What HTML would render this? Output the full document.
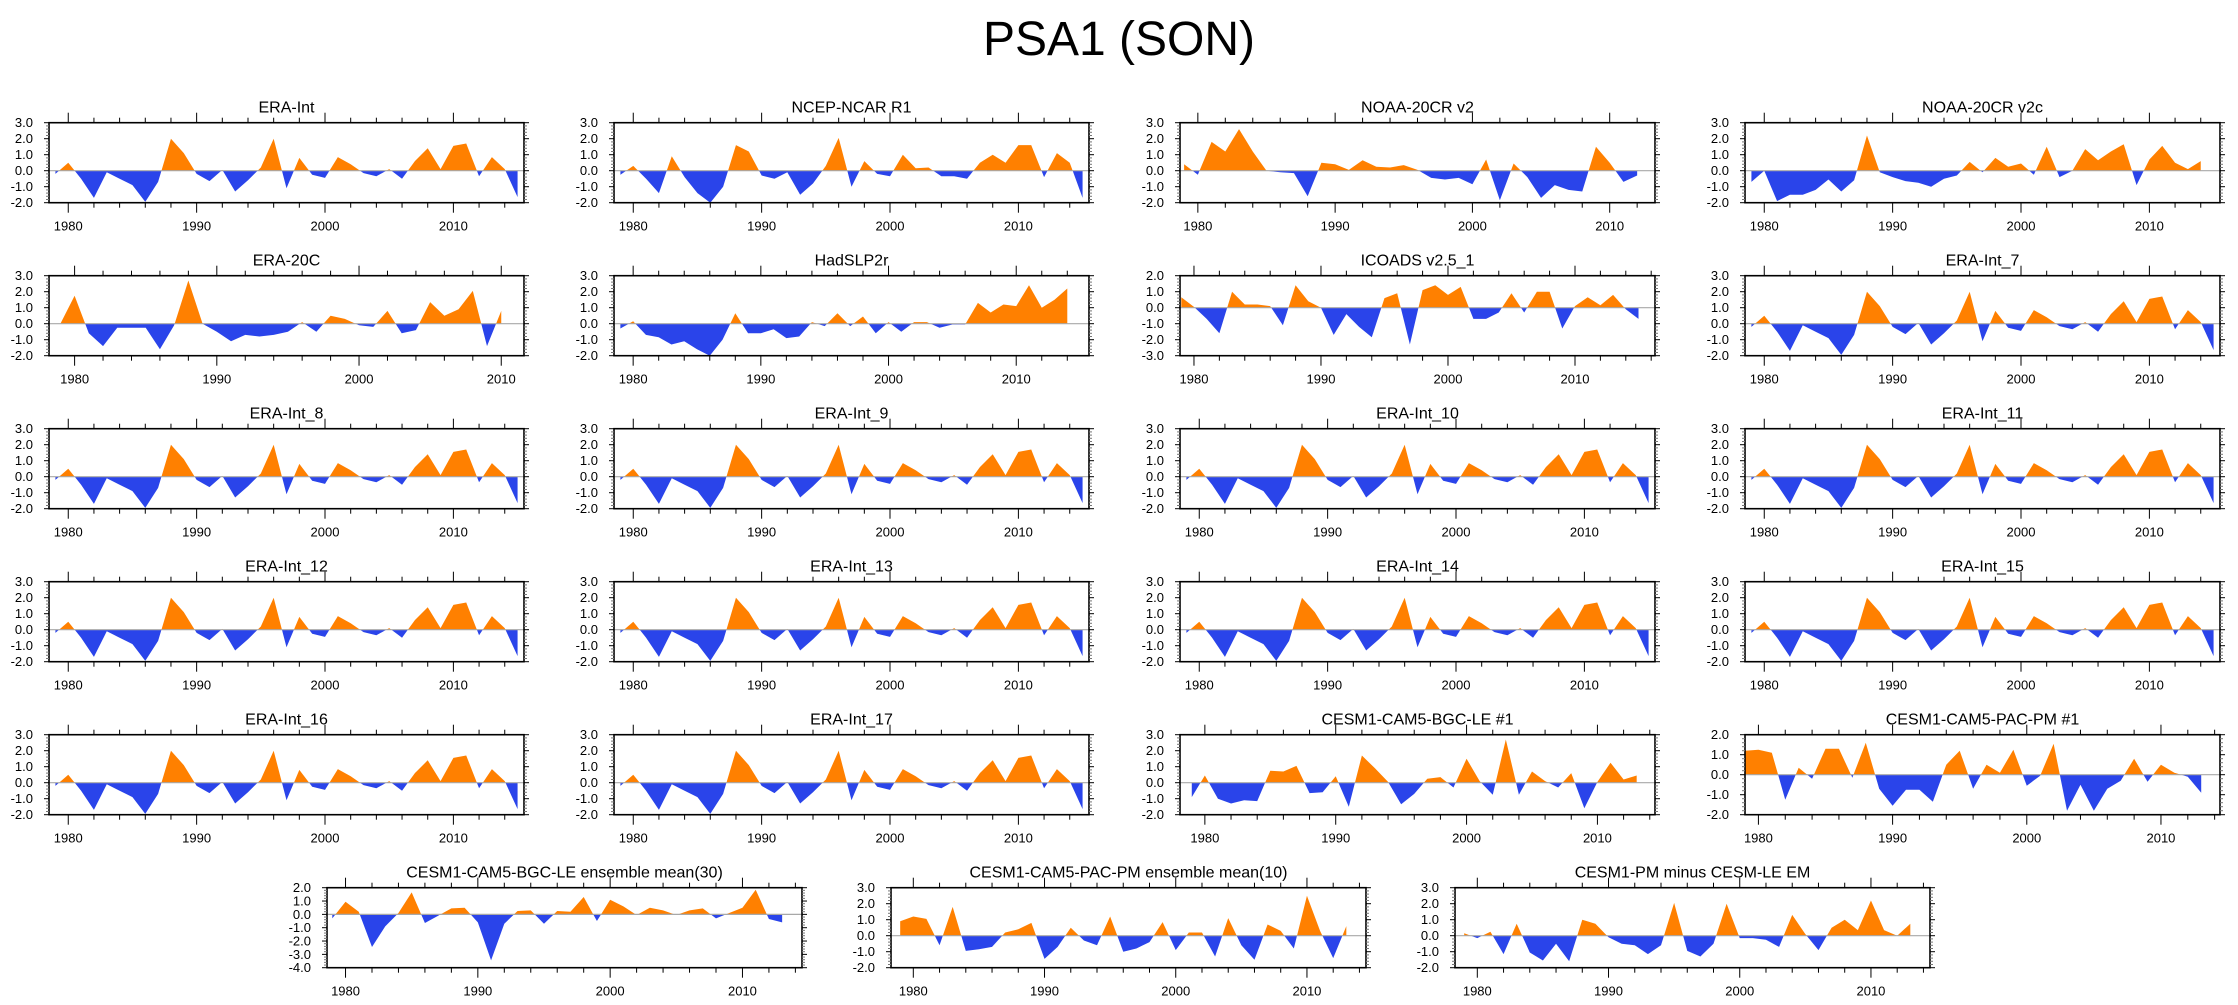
<!DOCTYPE html>
<html><head><meta charset="utf-8"><title>PSA1 (SON)</title>
<style>
html,body{margin:0;padding:0;background:#fff;}
svg{display:block;font-family:"Liberation Sans",Arial,sans-serif;}
</style></head>
<body>
<svg id="fig" width="2238" height="1005" viewBox="0 0 2238 1005" xmlns="http://www.w3.org/2000/svg">
<text x="1119" y="55" text-anchor="middle" font-size="48">PSA1 (SON)</text>
</svg>
<script>
// ---- data (start year 1979 for all series) ----
const eraInt = [-0.2,0.5,-0.5,-1.7,-0.1,-0.5,-0.9,-1.95,-0.7,2.0,1.1,-0.2,-0.65,0.05,-1.3,-0.6,0.2,2.0,-1.1,0.8,-0.25,-0.45,0.85,0.4,-0.15,-0.35,0.1,-0.5,0.6,1.4,0.1,1.55,1.7,-0.35,0.85,0.1,-1.65];
const ncep = [-0.25,0.3,-0.5,-1.4,0.9,-0.4,-1.4,-2.0,-1.0,1.6,1.2,-0.3,-0.5,-0.1,-1.5,-0.8,0.3,2.05,-1.0,0.6,-0.2,-0.35,1.0,0.15,0.2,-0.35,-0.35,-0.5,0.5,1.0,0.5,1.6,1.6,-0.4,1.1,0.5,-1.7];
const noaaV2 = [0.4,-0.25,1.8,1.2,2.6,1.2,0.0,-0.1,-0.15,-1.6,0.5,0.4,0.05,0.65,0.25,0.2,0.35,0.05,-0.45,-0.55,-0.45,-0.85,0.7,-1.85,0.45,-0.4,-1.7,-0.9,-1.2,-1.3,1.5,0.5,-0.7,-0.3];
const noaaV2c = [-0.7,0.0,-1.9,-1.5,-1.5,-1.2,-0.55,-1.3,-0.6,2.2,-0.1,-0.4,-0.65,-0.75,-1.0,-0.5,-0.3,0.55,-0.1,0.8,0.25,0.45,-0.25,1.5,-0.4,0.0,1.35,0.65,1.2,1.65,-0.9,0.7,1.55,0.5,0.1,0.6];
const era20c = [0.0,1.75,-0.6,-1.4,-0.25,-0.25,-0.25,-1.6,-0.1,2.7,0.0,-0.5,-1.1,-0.7,-0.8,-0.7,-0.5,0.1,-0.5,0.5,0.3,-0.1,-0.2,0.8,-0.6,-0.4,1.35,0.5,0.9,2.05,-1.4,0.8];
const hadslp = [-0.3,0.15,-0.7,-0.85,-1.3,-1.1,-1.6,-2.0,-1.0,0.65,-0.6,-0.6,-0.35,-0.9,-0.8,0.1,-0.15,0.65,-0.15,0.45,-0.6,0.1,-0.5,0.1,0.1,-0.25,-0.05,-0.05,1.3,0.7,1.2,1.1,2.4,1.0,1.5,2.2];
const icoads = [0.65,0.05,-0.7,-1.6,1.0,0.2,0.2,0.1,-1.1,1.4,0.4,0.0,-1.7,-0.4,-1.2,-1.85,0.6,0.9,-2.3,1.1,1.4,0.8,1.3,-0.7,-0.7,-0.3,0.9,-0.3,1.0,1.0,-1.3,0.1,0.65,0.15,0.8,-0.1,-0.7];
const bgc1 = [-0.9,0.45,-1.0,-1.3,-1.1,-1.15,0.75,0.7,1.05,-0.65,-0.6,0.4,-1.5,1.7,0.9,0.05,-1.35,-0.7,0.25,0.35,-0.3,1.5,0.1,-0.75,2.7,-0.75,0.7,0.1,-0.3,0.6,-1.6,0.05,1.25,0.2,0.45];
const pac1 = [1.2,1.25,1.1,-1.25,0.35,-0.2,1.3,1.3,-0.15,1.6,-0.7,-1.55,-0.75,-0.75,-1.35,0.5,1.2,-0.7,0.5,0.1,1.25,-0.55,-0.05,1.55,-1.8,-0.5,-1.8,-0.7,-0.3,0.8,-0.35,0.5,0.1,-0.1,-0.9];
const bgcEm = [-0.3,0.95,0.2,-2.45,-0.9,0.1,1.65,-0.65,-0.1,0.45,0.5,-0.6,-3.45,-0.7,0.25,0.3,-0.7,0.25,0.2,1.3,-0.5,1.1,0.6,-0.05,0.5,0.3,-0.05,0.3,0.45,-0.3,0.1,0.5,1.85,-0.35,-0.6];
const pacEm = [0.9,1.2,1.05,-0.6,1.8,-0.95,-0.85,-0.7,0.2,0.4,0.8,-1.45,-0.7,0.5,-0.3,-0.6,1.2,-1.0,-0.8,-0.4,0.85,-0.9,0.2,0.2,-1.3,1.1,-0.6,-1.5,0.7,0.3,-0.8,2.5,0.3,-1.4,0.6];
const pmMinus = [0.15,-0.15,0.25,-1.15,0.75,-1.05,-1.55,-0.5,-1.6,1.0,0.75,-0.1,-0.5,-0.6,-1.15,-0.6,2.05,-0.95,-1.3,-0.5,2.0,-0.15,-0.15,-0.25,-0.7,1.3,0.1,-0.9,0.5,1.0,0.35,2.2,0.35,0.0,0.75];
const xTickLabels = [1980,1990,2000,2010];

const panels = [
 ["ERA-Int",eraInt,0,0,-2,3,1978.5,2015.5],
 ["NCEP-NCAR R1",ncep,1,0,-2,3,1978.5,2015.5],
 ["NOAA-20CR v2",noaaV2,2,0,-2,3,1978.7,2013.3],
 ["NOAA-20CR v2c",noaaV2c,3,0,-2,3,1978.5,2015.5],
 ["ERA-20C",era20c,0,1,-2,3,1978.2,2011.6],
 ["HadSLP2r",hadslp,1,1,-2,3,1978.5,2015.7],
 ["ICOADS v2.5_1",icoads,2,1,-3,2,1978.9,2016.3],
 ["ERA-Int_7",eraInt,3,1,-2,3,1978.5,2015.5],
 ["ERA-Int_8",eraInt,0,2,-2,3,1978.5,2015.5],
 ["ERA-Int_9",eraInt,1,2,-2,3,1978.5,2015.5],
 ["ERA-Int_10",eraInt,2,2,-2,3,1978.5,2015.5],
 ["ERA-Int_11",eraInt,3,2,-2,3,1978.5,2015.5],
 ["ERA-Int_12",eraInt,0,3,-2,3,1978.5,2015.5],
 ["ERA-Int_13",eraInt,1,3,-2,3,1978.5,2015.5],
 ["ERA-Int_14",eraInt,2,3,-2,3,1978.5,2015.5],
 ["ERA-Int_15",eraInt,3,3,-2,3,1978.5,2015.5],
 ["ERA-Int_16",eraInt,0,4,-2,3,1978.5,2015.5],
 ["ERA-Int_17",eraInt,1,4,-2,3,1978.5,2015.5],
 ["CESM1-CAM5-BGC-LE #1",bgc1,2,4,-2,3,1978.1,2014.4],
 ["CESM1-CAM5-PAC-PM #1",pac1,3,4,-2,2,1979.0,2014.4],
 ["CESM1-CAM5-BGC-LE ensemble mean(30)",bgcEm,0,5,-4,2,1978.6,2014.5],
 ["CESM1-CAM5-PAC-PM ensemble mean(10)",pacEm,1,5,-2,3,1978.3,2014.5],
 ["CESM1-PM minus CESM-LE EM",pmMinus,2,5,-2,3,1978.3,2014.5]
];

const NS="http://www.w3.org/2000/svg";
const svg=document.getElementById('fig');
const colLeft=[49,614,1180,1745], rowLeft6=[327,891,1455];
const PW=475, PH=80;
function mk(tag,attrs,parent){const e=document.createElementNS(NS,tag);for(const k in attrs)e.setAttribute(k,attrs[k]);(parent||svg).appendChild(e);return e;}

panels.forEach((p,pi)=>{
  const [title,data,col,row,ymin,ymax,xmin,xmax]=p;
  const L = row===5 ? rowLeft6[col] : colLeft[col];
  const T = 122.7 + row*153;
  const g=mk('g',{});
  
  
  const sx=v=>L+(v-xmin)/(xmax-xmin)*PW;
  const sy=v=>T+(ymax-v)/(ymax-ymin)*PH;
  const y0=sy(0);
  let d='M'+sx(1979).toFixed(2)+','+y0.toFixed(2);
  data.forEach((v,i)=>{d+=' L'+sx(1979+i).toFixed(2)+','+sy(v).toFixed(2);});
  d+=' L'+sx(1979+data.length-1).toFixed(2)+','+y0.toFixed(2)+' Z';
  const cpA='cpA'+pi, cpB='cpB'+pi;
  const defs=mk('defs',{},g);
  const c1=mk('clipPath',{id:cpA},defs); mk('rect',{x:L,y:T,width:PW,height:y0-T},c1);
  const c2=mk('clipPath',{id:cpB},defs); mk('rect',{x:L,y:y0,width:PW,height:T+PH-y0},c2);
  const pos=mk('path',{d:d,fill:'#ff8000','clip-path':'url(#'+cpA+')'},g);
  
  
  const neg=mk('path',{d:d,fill:'#2a44ea','clip-path':'url(#'+cpB+')'},g);
  
  
  const zl=mk('line',{x1:L,x2:L+PW,y1:y0,y2:y0,stroke:'#a8a8a8','stroke-width':1.2},g);
  
  
  const fr=mk('rect',{x:L,y:T,width:PW,height:PH,fill:'none',stroke:'#000','stroke-width':1.6},g);
  
  
  for(let k=Math.round(ymin*5);k<=Math.round(ymax*5);k++){
    const v=k/5, yy=sy(v), major=(k%5===0), len=major?5:3;
    mk('line',{x1:L-len,x2:L,y1:yy,y2:yy,stroke:major?'#000':'#777','stroke-width':1},g);
    mk('line',{x1:L+PW,x2:L+PW+len,y1:yy,y2:yy,stroke:major?'#000':'#777','stroke-width':1},g);
    if(major){
      const t=mk('text',{x:L-16,y:yy+4.5,'text-anchor':'end','font-size':13},g);
      t.textContent=v.toFixed(1);
      
      
    }
  }
  for(let yr=1976;yr<=2020;yr+=2){
    if(yr<xmin||yr>xmax)continue;
    const xx=sx(yr), major=(yr%10===0), len=major?10:5;
    mk('line',{x1:xx,x2:xx,y1:T-len,y2:T,stroke:'#000','stroke-width':1},g);
    mk('line',{x1:xx,x2:xx,y1:T+PH,y2:T+PH+len,stroke:'#000','stroke-width':1},g);
  }
  xTickLabels.forEach(yr=>{
    if(yr<xmin||yr>xmax)return;
    const t=mk('text',{x:sx(yr),y:T+PH+28,'text-anchor':'middle','font-size':13},g);
    t.textContent=String(yr);
    
    
  });
  const tt=mk('text',{x:L+PW/2,y:T-10,'text-anchor':'middle','font-size':16},g);
  tt.textContent=title;
  
  
});
</script>
</body></html>
